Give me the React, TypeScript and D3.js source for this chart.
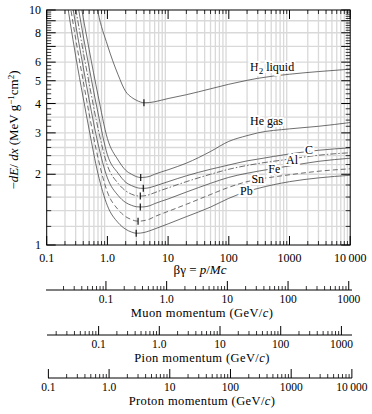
import React from "react";
import * as d3 from "d3";

// beta*gamma sample points shared by all curves
const betaGamma = [0.2, 0.3, 0.4, 0.5, 0.7, 1, 1.5, 2, 2.5, 3, 3.5, 4, 5, 6, 10, 20, 50, 100, 200, 300, 1000, 3000, 10000];

// -dE/dx in MeV g^-1 cm^2
const h2Liquid = [70, 38, 24, 17, 9.8, 7.1, 5.3, 4.5, 4.25, 4.13, 4.06, 4.03, 4.04, 4.07, 4.2, 4.36, 4.62, 4.83, 5.02, 5.12, 5.33, 5.47, 5.6];
const heGas = [28.4, 14.5, 9.27, 6.79, 4.34, 2.84, 2.3, 2.08, 2.0, 1.955, 1.937, 1.94, 1.96, 2.0, 2.09, 2.23, 2.5, 2.76, 2.92, 3.0, 3.12, 3.2, 3.32];
const carbon = [23.4, 12.0, 7.75, 5.69, 3.65, 2.42, 2.02, 1.85, 1.79, 1.757, 1.743, 1.742, 1.755, 1.78, 1.86, 1.97, 2.1, 2.19, 2.28, 2.32, 2.44, 2.53, 2.59];
const aluminum = [19.7, 10.19, 6.64, 4.88, 3.14, 2.18, 1.83, 1.7, 1.645, 1.62, 1.615, 1.618, 1.64, 1.67, 1.75, 1.86, 2.0, 2.1, 2.18, 2.22, 2.32, 2.41, 2.47];
const iron = [16.8, 8.66, 5.71, 4.16, 2.7, 1.93, 1.625, 1.516, 1.475, 1.455, 1.451, 1.453, 1.47, 1.5, 1.57, 1.68, 1.83, 1.94, 2.02, 2.06, 2.17, 2.27, 2.34];
const tin = [14.6, 7.54, 4.98, 3.62, 2.35, 1.68, 1.415, 1.32, 1.283, 1.265, 1.264, 1.27, 1.29, 1.32, 1.39, 1.49, 1.64, 1.76, 1.86, 1.9, 1.99, 2.06, 2.11];
const lead = [12.3, 6.38, 4.22, 3.1, 2.01, 1.47, 1.245, 1.167, 1.135, 1.122, 1.124, 1.13, 1.15, 1.17, 1.23, 1.32, 1.45, 1.58, 1.69, 1.74, 1.86, 1.93, 1.98];

const materials = ["H2 liquid", "He gas", "C", "Al", "Fe", "Sn", "Pb"];
const minBetaGamma = [4.0, 3.54, 3.9, 3.48, 3.48, 3.2, 2.98];
const minLoss = [4.03, 1.937, 1.742, 1.615, 1.451, 1.263, 1.122];

const xTickValues = [0.1, 1, 10, 100, 1000, 10000];
const xTickLabels = ["0.1", "1.0", "10", "100", "1000", "10\u2009000"];
const yTickValues = [1, 2, 3, 4, 5, 6, 8, 10];
const yTickLabels = ["1", "2", "3", "4", "5", "6", "8", "10"];
const yGrid = [1.2, 1.4, 1.6, 1.8, 2, 2.2, 2.4, 2.6, 2.8, 3, 3.5, 4, 5, 6, 7, 8, 9];

const particles = ["Muon", "Pion", "Proton"];
const particleMass = [0.10566, 0.13957, 0.93827]; // GeV
const muonTicks = [0.1, 1, 10, 100, 1000];
const muonTickLabels = ["0.1", "1.0", "10", "100", "1000"];
const pionTicks = [0.1, 1, 10, 100, 1000];
const pionTickLabels = ["0.1", "1.0", "10", "100", "1000"];
const protonTicks = [0.1, 1, 10, 100, 1000, 10000];
const protonTickLabels = ["0.1", "1.0", "10", "100", "1000", "10\u2009000"];

const W = 372;
const H = 414;
const left = 46.7, right = 350.2, top = 10, bottom = 245;
const font = '"Liberation Serif", "Times New Roman", Times, serif';

const x = d3.scaleLog().domain([0.1, 10000]).range([left, right]);
const y = d3.scaleLog().domain([1, 10]).range([bottom, top]);

const curves = [h2Liquid, heGas, carbon, aluminum, iron, tin, lead];
const dashes = [undefined, undefined, undefined, "6,2,1.5,2", undefined, "5,3", undefined];

function minors(from: number, to: number) {
  const out: number[] = [];
  for (let e = from; e <= to; e++) for (let k = 2; k <= 9; k++) out.push(k * Math.pow(10, e));
  return out;
}

function MomentumAxis({ i, yPos, ticks, labels, minorFrom, minorTo, lineStart }: any) {
  const m = particleMass[i];
  const px = (p: number) => x(p / m);
  const mins = minors(minorFrom, minorTo).filter(p => px(p) >= left && px(p) <= 352.5);
  return (
    <g>
      <line x1={lineStart} x2={352} y1={yPos} y2={yPos} stroke="black" strokeWidth={1} />
      {mins.map(p => <line key={p} x1={px(p)} x2={px(p)} y1={yPos} y2={yPos - 4} stroke="black" strokeWidth={0.8} />)}
      {ticks.map((p: number, j: number) => (
        <g key={p}>
          <line x1={px(p)} x2={px(p)} y1={yPos} y2={yPos - 9} stroke="black" strokeWidth={1} />
          <text x={px(p)} y={yPos + 12.5} textAnchor="middle" fontSize={11.5}>{labels[j]}</text>
        </g>
      ))}
      <text x={202} y={yPos + 26.5} textAnchor="middle" fontSize={12.5} letterSpacing={0.4}>
        {particles[i]} momentum (GeV/<tspan fontStyle="italic">c</tspan>)
      </text>
    </g>
  );
}

export default function App() {
  const line = d3.line<[number, number]>()
    .x(d => x(d[0]))
    .y(d => y(d[1]))
    .curve(d3.curveMonotoneX);

  const xGrid = minors(-1, 3);
  const yMinor: number[] = [];
  for (let v = 1.2; v < 10; v += 0.2) yMinor.push(+v.toFixed(1));
  const yMajor = [1, 2, 3, 4, 5, 6, 7, 8, 9, 10];

  const labelPos = [
    { bg: 250, v: 5.65 }, { bg: 250, v: 3.22 },
    { bg: 2100, v: 2.54 }, { bg: 1100, v: 2.3 }, { bg: 560, v: 2.11 }, { bg: 300, v: 1.9 }, { bg: 195, v: 1.7 },
  ];

  return (
    <svg width={W} height={H} style={{ position: "absolute", left: 0, top: 0, background: "white" }} fontFamily={font}>
      <defs>
        <clipPath id="plot">
          <rect x={left} y={top} width={right - left} height={bottom - top} />
        </clipPath>
      </defs>

      {/* grid */}
      <g stroke="#d9d9d9" strokeWidth={1.3}>
        {xGrid.map(v => <line key={v} x1={x(v)} x2={x(v)} y1={top} y2={bottom} />)}
        {yGrid.map(v => <line key={v} x1={left} x2={right} y1={y(v)} y2={y(v)} />)}
      </g>

      {/* curves */}
      <g clipPath="url(#plot)" fill="none" stroke="#4a4a4a" strokeWidth={0.8}>
        {curves.map((c, i) => (
          <path key={materials[i]} d={line(betaGamma.map((b, j) => [b, c[j]]))!} strokeDasharray={dashes[i]} />
        ))}
      </g>
      {minBetaGamma.map((b, i) => (
        <line key={i} x1={x(b)} x2={x(b)} y1={y(minLoss[i]) - 3.5} y2={y(minLoss[i]) + 3.5} stroke="black" strokeWidth={1.1} />
      ))}

      {/* frame + ticks */}
      <rect x={left} y={top} width={right - left} height={bottom - top} fill="none" stroke="black" strokeWidth={1} />
      <g stroke="black">
        {xGrid.map(v => (
          <g key={v} strokeWidth={0.8}>
            <line x1={x(v)} x2={x(v)} y1={top} y2={top + 4} />
            <line x1={x(v)} x2={x(v)} y1={bottom} y2={bottom - 4} />
          </g>
        ))}
        {xTickValues.map(v => (
          <g key={v} strokeWidth={1}>
            <line x1={x(v)} x2={x(v)} y1={top} y2={top + 9} />
            <line x1={x(v)} x2={x(v)} y1={bottom} y2={bottom - 9} />
          </g>
        ))}
        {yMinor.filter(v => !yMajor.includes(v)).map(v => (
          <g key={v} strokeWidth={0.8}>
            <line x1={left} x2={left + 4.5} y1={y(v)} y2={y(v)} />
            <line x1={right} x2={right - 4.5} y1={y(v)} y2={y(v)} />
          </g>
        ))}
        {yMajor.map(v => (
          <g key={v} strokeWidth={1}>
            <line x1={left} x2={left + 9} y1={y(v)} y2={y(v)} />
            <line x1={right} x2={right - 9} y1={y(v)} y2={y(v)} />
          </g>
        ))}
      </g>

      {/* tick labels */}
      {xTickValues.map((v, i) => (
        <text key={v} x={x(v)} y={262} textAnchor="middle" fontSize={12}>{xTickLabels[i]}</text>
      ))}
      {yTickValues.map((v, i) => (
        <text key={v} x={41} y={y(v) + 4.2} textAnchor="end" fontSize={12}>{yTickLabels[i]}</text>
      ))}

      {/* axis titles */}
      <text x={200} y={274} textAnchor="middle" fontSize={13}>
        βγ = <tspan fontStyle="italic">p</tspan>/<tspan fontStyle="italic">Mc</tspan>
      </text>
      <text transform="translate(18,130) rotate(-90)" textAnchor="middle" fontSize={13}>
        −<tspan fontStyle="italic">dE</tspan>/ <tspan fontStyle="italic">dx</tspan> (MeV g<tspan dy={-4.5} fontSize={9}>−1</tspan><tspan dy={4.5}>cm</tspan><tspan dy={-4.5} fontSize={9}>2</tspan><tspan dy={4.5}>)</tspan>
      </text>

      {/* material labels */}
      <g fontSize={12} stroke="white" strokeWidth={4} paintOrder="stroke" fill="black">
        <text x={250} y={71}>H<tspan dy={3} fontSize={9}>2</tspan><tspan dy={-3}> liquid</tspan></text>
        <text x={250} y={125}>He gas</text>
        {materials.slice(2).map((m, k) => {
          const p = labelPos[k + 2];
          return <text key={m} x={x(p.bg)} y={y(p.v) + 4} textAnchor="middle">{m}</text>;
        })}
      </g>

      {/* momentum scales */}
      <MomentumAxis i={0} yPos={290} ticks={muonTicks} labels={muonTickLabels} minorFrom={-2} minorTo={2} lineStart={46} />
      <MomentumAxis i={1} yPos={335} ticks={pionTicks} labels={pionTickLabels} minorFrom={-2} minorTo={2} lineStart={47} />
      <MomentumAxis i={2} yPos={378} ticks={protonTicks} labels={protonTickLabels} minorFrom={-1} minorTo={3} lineStart={48} />
    </svg>
  );
}
